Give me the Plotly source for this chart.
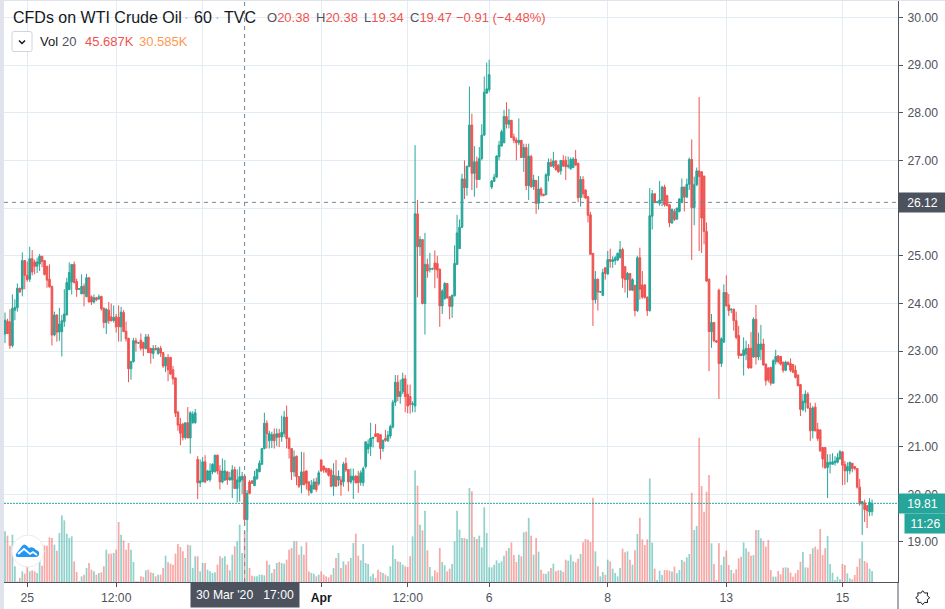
import numpy as np
import plotly.graph_objects as go

# hourly bars, weekend gaps closed
opens = [
    23.36, 23.63, 23.61, 23.12, 23.86, 23.91, 24.32, 24.30, 24.90, 24.59,
    24.51, 24.94, 24.87, 24.78, 24.83, 24.99, 24.90, 24.78, 24.51, 24.36,
    23.34, 23.76, 23.40, 23.41, 23.62, 23.76, 24.29, 24.45, 24.82, 24.46,
    24.30, 24.20, 24.36, 24.14, 24.54, 24.14, 24.03, 24.12, 24.10, 24.15,
    23.90, 23.60, 23.86, 23.72, 23.64, 23.72, 23.71, 23.51, 23.81, 23.42,
    23.27, 22.63, 22.78, 23.22, 23.17, 23.23, 23.18, 23.05, 23.30, 23.06,
    22.95, 23.06, 22.95, 23.06, 22.97, 22.69, 22.87, 22.87, 22.61, 22.44,
    21.72, 21.47, 21.47, 21.19, 21.50, 21.18, 21.50, 21.50, 20.73, 20.24,
    20.26, 20.68, 20.30, 20.31, 20.47, 20.47, 20.82, 20.49, 20.26, 20.30,
    20.47, 20.30, 20.30, 20.52, 20.12, 20.26, 20.30, 20.38, 19.47, 20.26,
    20.28, 20.18, 20.33, 20.47, 20.63, 20.96, 21.49, 21.12, 21.13, 21.26,
    21.19, 21.27, 21.20, 21.27, 21.62, 21.17, 20.96, 20.47, 20.80, 20.37,
    20.20, 20.47, 20.49, 20.26, 20.03, 20.11, 20.26, 20.22, 20.72, 20.59,
    20.54, 20.54, 20.50, 20.17, 20.38, 20.30, 20.30, 20.26, 20.65, 20.52,
    20.26, 20.30, 20.38, 20.38, 20.25, 20.24, 20.58, 20.95, 21.00, 21.17,
    21.27, 21.27, 21.25, 20.96, 21.17, 21.12, 21.22, 21.41, 21.93, 22.35,
    22.05, 22.15, 22.42, 22.10, 22.05, 21.88, 21.85, 25.88, 25.19, 25.34,
    24.00, 24.82, 24.72, 24.72, 24.85, 24.84, 24.72, 23.95, 24.10, 24.42,
    24.14, 23.94, 24.16, 24.82, 25.15, 25.60, 26.61, 26.43, 26.87, 27.74,
    26.73, 26.97, 26.60, 27.04, 27.53, 28.41, 28.48, 26.44, 26.56, 26.65,
    27.08, 27.30, 27.37, 27.92, 27.76, 27.84, 27.49, 27.43, 27.37, 27.42,
    27.06, 27.27, 26.47, 27.08, 26.45, 26.58, 26.10, 26.40, 26.29, 26.28,
    26.68, 26.96, 26.88, 26.99, 26.90, 26.78, 27.00, 27.00, 26.87, 26.83,
    26.85, 27.03, 26.94, 26.22, 26.60, 26.38, 26.24, 25.86, 25.05, 24.08,
    24.51, 24.24, 24.17, 24.75, 24.62, 24.92, 24.88, 24.90, 24.91, 24.96,
    25.13, 24.77, 24.50, 24.63, 24.28, 24.38, 23.85, 24.96, 24.39, 24.39,
    24.13, 23.85, 25.83, 26.30, 26.12, 26.10, 26.16, 26.44, 26.26, 26.07,
    25.69, 25.93, 25.77, 25.93, 26.12, 26.44, 26.23, 26.50, 27.02, 26.01,
    26.49, 26.78, 26.76, 26.67, 25.51, 24.51, 23.41, 23.60, 23.22, 24.28,
    22.74, 23.19, 24.23, 23.97, 23.87, 23.88, 23.64, 23.33, 22.94, 22.91,
    22.94, 23.06, 23.06, 22.88, 23.67, 22.88, 23.04, 23.15, 22.73, 22.65,
    22.66, 22.33, 22.78, 22.90, 22.89, 22.77, 22.60, 22.77, 22.74, 22.72,
    22.60, 22.50, 22.30, 21.78, 21.92, 22.10, 21.81, 21.33, 21.83, 21.36,
    21.35, 20.98, 20.98, 20.56, 20.63, 20.63, 20.66, 20.67, 20.74, 20.89,
    20.63, 20.49, 20.49, 20.65, 20.58, 20.54, 20.15, 19.80, 19.82, 19.76,
    19.63, 19.64,
]
highs = [
    23.81, 23.68, 23.88, 24.19, 24.09, 24.42, 24.33, 25.07, 24.91, 24.88,
    25.19, 25.12, 24.92, 24.96, 25.04, 25.00, 24.91, 24.79, 24.82, 24.37,
    23.83, 23.77, 23.91, 23.76, 24.30, 24.54, 24.86, 24.82, 24.88, 24.52,
    24.31, 24.61, 24.42, 24.62, 24.55, 24.17, 24.19, 24.14, 24.19, 24.16,
    23.92, 23.90, 24.03, 24.00, 23.96, 23.78, 23.96, 23.93, 23.86, 23.62,
    23.28, 22.80, 23.28, 23.28, 23.19, 23.37, 23.20, 23.36, 23.36, 23.07,
    23.13, 23.13, 23.09, 23.11, 22.98, 22.87, 22.94, 22.88, 22.69, 22.45,
    21.75, 21.60, 21.50, 21.50, 21.83, 21.74, 21.74, 21.79, 20.80, 20.73,
    20.78, 20.82, 20.51, 20.65, 20.65, 20.82, 20.83, 20.61, 20.75, 20.72,
    20.48, 20.47, 20.61, 20.58, 20.52, 20.58, 20.47, 20.38, 20.09, 20.30,
    20.30, 20.49, 20.54, 20.71, 20.96, 21.71, 21.55, 21.33, 21.31, 21.38,
    21.38, 21.37, 21.65, 21.75, 21.86, 21.20, 20.97, 20.92, 20.81, 20.38,
    20.89, 20.88, 20.50, 20.27, 20.30, 20.33, 20.35, 20.50, 20.73, 20.60,
    20.56, 20.55, 20.54, 20.65, 20.72, 20.50, 20.38, 20.68, 20.77, 20.53,
    20.54, 20.54, 20.40, 20.49, 20.50, 20.58, 21.10, 21.15, 21.50, 21.21,
    21.47, 21.28, 21.26, 21.15, 21.35, 21.33, 21.46, 21.98, 22.50, 22.50,
    22.40, 22.55, 22.50, 22.30, 22.30, 21.95, 27.32, 26.17, 25.41, 25.35,
    25.48, 24.94, 25.06, 24.75, 25.11, 25.00, 24.73, 24.30, 24.45, 24.43,
    24.15, 24.19, 25.22, 25.86, 25.76, 26.72, 27.00, 26.88, 28.55, 27.98,
    27.30, 27.08, 27.28, 27.76, 28.76, 29.05, 29.11, 26.59, 26.72, 27.11,
    27.41, 27.64, 28.06, 28.22, 28.08, 27.85, 27.56, 27.48, 27.88, 27.43,
    27.35, 27.35, 27.35, 27.12, 26.70, 26.59, 26.67, 26.44, 26.30, 26.73,
    27.04, 27.04, 27.18, 27.00, 26.92, 27.00, 27.11, 27.09, 27.08, 27.06,
    27.07, 27.22, 26.95, 26.67, 26.67, 26.39, 26.25, 25.92, 25.06, 24.68,
    24.52, 24.26, 24.73, 24.76, 25.10, 25.15, 24.99, 25.00, 25.07, 25.31,
    25.17, 24.79, 24.66, 24.64, 24.53, 24.39, 25.00, 25.17, 24.68, 24.40,
    24.15, 26.42, 26.38, 26.31, 26.14, 26.57, 26.47, 26.49, 26.28, 26.08,
    25.99, 25.98, 26.01, 26.21, 26.62, 26.45, 26.62, 27.06, 27.44, 26.66,
    26.85, 28.33, 26.77, 26.68, 25.70, 24.52, 23.78, 23.61, 23.23, 24.31,
    23.29, 24.40, 24.59, 24.20, 23.90, 23.89, 23.83, 23.53, 22.95, 23.29,
    23.22, 23.15, 23.40, 23.71, 23.97, 23.39, 23.55, 23.26, 22.74, 22.66,
    22.67, 22.83, 23.03, 22.92, 22.90, 22.78, 22.80, 22.78, 22.85, 22.73,
    22.70, 22.51, 22.31, 22.10, 22.18, 22.14, 21.92, 21.85, 21.92, 21.50,
    21.36, 20.99, 20.99, 20.84, 20.84, 20.86, 20.80, 20.86, 20.93, 20.90,
    20.70, 20.67, 20.68, 20.66, 20.59, 20.55, 20.32, 19.86, 19.89, 19.77,
    19.92, 19.89,
]
lows = [
    23.17, 23.36, 23.05, 23.08, 23.65, 23.83, 24.23, 24.15, 24.30, 24.46,
    24.45, 24.59, 24.61, 24.64, 24.68, 24.76, 24.59, 24.33, 24.33, 23.12,
    23.31, 23.20, 23.22, 22.89, 23.51, 23.75, 24.28, 24.19, 24.42, 24.14,
    24.28, 24.20, 23.94, 24.14, 24.03, 23.97, 24.00, 24.05, 24.07, 23.85,
    23.48, 23.36, 23.57, 23.62, 23.60, 23.39, 23.20, 23.20, 23.41, 23.20,
    22.35, 22.40, 22.76, 22.99, 23.15, 23.01, 22.90, 23.05, 22.97, 22.74,
    22.84, 23.02, 22.93, 22.88, 22.65, 22.56, 22.37, 22.50, 22.30, 21.62,
    21.33, 21.03, 21.13, 21.15, 21.18, 20.85, 21.48, 21.48, 19.90, 20.15,
    20.26, 20.23, 20.28, 20.26, 20.42, 20.46, 20.42, 20.10, 20.23, 20.28,
    20.20, 20.29, 19.92, 20.12, 19.83, 19.85, 20.00, 19.34, 19.22, 20.00,
    20.22, 20.18, 20.30, 20.47, 20.61, 20.94, 20.96, 20.96, 20.97, 20.96,
    21.01, 20.99, 21.10, 21.20, 20.96, 20.75, 20.30, 20.37, 20.19, 20.13,
    20.02, 20.25, 20.10, 19.97, 20.02, 20.10, 20.05, 20.18, 20.47, 20.45,
    20.44, 20.37, 20.15, 19.97, 20.16, 20.17, 19.97, 20.16, 20.47, 20.06,
    20.22, 19.90, 20.23, 20.03, 20.18, 20.17, 20.54, 20.85, 20.80, 20.98,
    21.20, 21.09, 20.73, 20.89, 21.10, 21.10, 21.17, 21.38, 21.85, 21.95,
    21.90, 22.10, 21.72, 21.70, 21.69, 21.72, 21.72, 24.13, 25.00, 23.98,
    23.35, 24.54, 24.65, 24.70, 24.32, 24.53, 23.51, 23.78, 24.08, 24.10,
    23.67, 23.70, 24.15, 24.81, 25.14, 25.58, 26.19, 26.26, 26.86, 26.38,
    26.24, 26.42, 26.59, 27.00, 27.52, 28.40, 28.43, 26.40, 26.55, 26.63,
    27.00, 27.29, 27.36, 27.67, 27.67, 27.47, 27.36, 27.00, 27.32, 27.05,
    26.76, 26.38, 26.17, 26.42, 26.38, 25.88, 25.97, 26.24, 26.25, 26.27,
    26.56, 26.87, 26.84, 26.78, 26.74, 26.70, 26.87, 26.59, 26.83, 26.80,
    26.84, 26.89, 26.12, 26.03, 26.22, 26.19, 25.70, 25.02, 23.53, 24.00,
    23.85, 24.22, 24.16, 24.50, 24.60, 24.75, 24.75, 24.81, 24.89, 24.95,
    24.33, 24.23, 24.12, 24.28, 24.26, 23.73, 23.82, 24.08, 24.10, 24.10,
    23.74, 23.83, 25.55, 26.10, 26.10, 26.05, 26.04, 26.03, 26.04, 25.60,
    25.67, 25.73, 25.75, 25.91, 26.10, 25.93, 26.22, 26.38, 24.91, 25.64,
    26.46, 25.10, 25.06, 25.24, 24.45, 22.58, 23.07, 23.19, 23.18, 22.00,
    22.67, 23.18, 23.94, 23.74, 23.80, 23.43, 23.25, 22.84, 22.90, 22.49,
    22.81, 22.63, 22.64, 22.86, 22.72, 22.81, 22.81, 22.70, 22.28, 22.35,
    22.28, 22.32, 22.72, 22.74, 22.70, 22.55, 22.58, 22.70, 22.56, 22.54,
    22.43, 22.26, 21.64, 21.74, 21.72, 21.79, 21.12, 21.17, 21.32, 21.12,
    20.89, 20.56, 20.53, 19.92, 20.44, 20.62, 20.60, 20.65, 20.73, 20.19,
    20.20, 20.25, 20.42, 20.46, 20.50, 20.12, 19.76, 19.15, 19.42, 19.29,
    19.54, 19.55,
]
closes = [
    23.65, 23.37, 23.12, 23.90, 23.92, 24.32, 24.24, 24.90, 24.59, 24.50,
    24.94, 24.66, 24.78, 24.87, 24.99, 24.88, 24.61, 24.49, 24.35, 23.34,
    23.76, 23.40, 23.57, 23.64, 23.78, 24.44, 24.65, 24.82, 24.44, 24.29,
    24.31, 24.36, 24.21, 24.54, 24.03, 24.03, 24.12, 24.08, 24.14, 23.89,
    23.60, 23.88, 23.64, 23.64, 23.71, 23.51, 23.51, 23.82, 23.41, 23.26,
    22.63, 22.78, 23.22, 23.17, 23.18, 23.06, 23.06, 23.30, 22.97, 22.96,
    23.06, 23.03, 23.06, 22.96, 22.69, 22.87, 22.61, 22.52, 22.42, 21.70,
    21.45, 21.28, 21.19, 21.50, 21.18, 21.71, 21.68, 21.71, 20.24, 20.28,
    20.68, 20.26, 20.49, 20.49, 20.63, 20.82, 20.49, 20.26, 20.49, 20.49,
    20.30, 20.35, 20.51, 20.12, 20.30, 20.37, 20.38, 19.47, 20.02, 20.02,
    20.23, 20.37, 20.52, 20.65, 20.96, 21.49, 21.27, 21.27, 21.25, 21.12,
    21.27, 21.20, 21.30, 21.62, 21.17, 20.96, 20.47, 20.78, 20.37, 20.17,
    20.47, 20.20, 20.23, 20.08, 20.19, 20.26, 20.10, 20.45, 20.49, 20.51,
    20.47, 20.40, 20.17, 20.40, 20.17, 20.38, 20.20, 20.63, 20.51, 20.26,
    20.38, 20.38, 20.24, 20.24, 20.45, 20.54, 21.10, 21.05, 21.18, 21.19,
    21.21, 21.10, 20.96, 21.13, 21.13, 21.24, 21.42, 21.93, 22.35, 22.05,
    22.15, 22.42, 22.05, 21.85, 21.88, 21.90, 25.88, 25.19, 25.34, 24.00,
    24.82, 24.68, 24.73, 24.73, 24.72, 24.70, 23.95, 24.26, 24.42, 24.12,
    23.94, 24.17, 24.84, 25.48, 25.60, 26.61, 26.43, 26.88, 27.74, 26.73,
    26.97, 26.60, 27.04, 27.53, 28.43, 28.50, 28.80, 26.57, 26.65, 27.09,
    27.32, 27.60, 27.92, 27.76, 27.84, 27.48, 27.42, 27.37, 27.42, 27.06,
    27.27, 26.47, 27.09, 26.45, 26.59, 26.10, 26.40, 26.28, 26.26, 26.70,
    26.96, 26.88, 26.99, 26.81, 26.76, 27.00, 26.88, 26.87, 26.90, 27.02,
    27.03, 26.90, 26.22, 26.60, 26.30, 26.21, 25.85, 25.03, 24.08, 24.51,
    24.24, 24.25, 24.65, 24.63, 24.92, 24.88, 24.92, 24.96, 25.05, 25.13,
    24.53, 24.50, 24.63, 24.28, 24.50, 23.85, 24.96, 24.30, 24.13, 24.13,
    23.85, 25.84, 26.30, 26.12, 26.13, 26.17, 26.44, 26.07, 26.05, 25.69,
    25.97, 25.76, 26.00, 26.19, 26.44, 26.23, 26.50, 27.02, 26.01, 26.49,
    26.78, 26.66, 25.79, 25.51, 24.47, 23.41, 23.60, 23.22, 23.19, 22.74,
    23.26, 24.23, 23.95, 23.85, 23.88, 23.64, 23.29, 22.91, 22.91, 23.03,
    23.06, 22.65, 22.65, 23.67, 22.88, 23.15, 23.15, 22.71, 22.38, 22.40,
    22.33, 22.80, 22.89, 22.78, 22.73, 22.60, 22.77, 22.72, 22.60, 22.56,
    22.45, 22.28, 21.78, 21.95, 22.10, 21.81, 21.33, 21.81, 21.33, 21.17,
    20.91, 20.74, 20.56, 20.67, 20.67, 20.68, 20.70, 20.77, 20.89, 20.61,
    20.49, 20.58, 20.67, 20.54, 20.54, 20.15, 19.80, 19.85, 19.68, 19.66,
    19.83, 19.81,
]
# volume in thousands
volumes = [
    45.6, 41.7, 32.7, 42.6, 14.1, 0.6, 3.6, 9.6, 7.5, 14.1,
    9.6, 10.5, 9.6, 8.1, 18.6, 14.7, 33.0, 32.7, 40.2, 39.6,
    33.6, 28.2, 44.1, 60.0, 55.5, 43.5, 39.6, 41.1, 18.6, 9.0,
    0.6, 5.1, 6.6, 12.6, 17.1, 11.1, 9.6, 6.6, 8.1, 8.7,
    14.1, 29.1, 25.5, 25.5, 26.1, 29.1, 54.0, 42.6, 37.5, 29.1,
    35.1, 29.1, 18.0, 0.6, 0.6, 5.1, 4.5, 10.5, 11.1, 8.7,
    8.1, 5.1, 6.6, 6.6, 12.6, 23.7, 17.7, 16.5, 15.6, 25.5,
    34.2, 31.5, 27.6, 21.6, 33.6, 33.0, 12.6, 23.1, 23.1, 9.6,
    17.1, 17.1, 11.1, 9.6, 8.1, 8.7, 15.6, 23.1, 21.6, 23.1,
    15.6, 10.5, 24.6, 32.1, 36.6, 51.6, 26.1, 45.687, 45.6, 12.6,
    5.7, 5.1, 5.1, 6.6, 6.6, 6.0, 19.2, 15.6, 8.1, 11.7,
    17.1, 18.0, 17.1, 16.5, 20.1, 29.1, 30.6, 36.6, 36.6, 24.6,
    32.1, 24.6, 35.7, 9.6, 8.1, 7.5, 5.1, 6.6,
    9.6, 6.6, 5.1, 4.2, 6.6, 12.6, 21.6, 26.1, 12.6, 18.6,
    15.6, 18.6, 21.6, 35.1, 43.5, 23.7, 19.5, 34.2, 17.1, 16.2,
    5.1, 7.5, 3.6, 11.1, 9.0, 8.1, 6.6, 5.1, 14.1, 33.0,
    20.7, 18.6, 18.0, 15.6, 14.1, 13.5, 23.1, 41.1, 100.5, 86.7, 51.6,
    46.5, 64.2, 28.5, 13.5, 5.1, 10.5, 8.7, 30.6, 18.0, 15.0,
    9.6, 12.0, 16.2, 36.6, 64.2, 47.1, 39.6, 39.6, 38.7, 84.6,
    81.6, 40.5, 38.7, 41.7, 31.2, 67.2, 44.1, 13.2, 13.2, 15.6,
    19.5, 17.1, 18.6, 23.7, 28.2, 30.6, 35.7, 24.3, 18.0, 24.6,
    23.1, 44.7, 45.3, 57.6, 41.7, 24.6, 39.6, 27.3, 11.1, 7.5,
    7.5, 9.6, 12.6, 16.5, 9.6, 10.5, 10.5, 9.0, 20.1, 19.2,
    24.6, 18.6, 17.7, 21.0, 25.2, 35.7, 38.7, 38.1, 36.0, 75.9,
    27.6, 14.1, 5.1, 9.0, 6.6, 20.1, 18.6, 12.0, 8.1, 5.1,
    12.6, 30.0, 26.7, 27.6, 20.1, 15.6, 28.5,
    43.2, 57.9, 38.4, 33.3, 38.4, 93.3,
    35.4, 12.0, 1.8, 10.2, 6.3, 10.8, 10.8, 10.2, 9.3, 13.8,
    7.8, 10.8, 19.8, 18.3, 22.2, 25.2, 80.4, 46.8, 50.4, 129.9,
    86.4, 63.3, 81.3, 96.3, 34.8, 16.2, 1.8, 34.8, 15.3, 22.8,
    28.2, 15.3, 10.8, 7.8, 11.4, 21.3, 22.8, 35.7, 30.3, 27.3,
    23.7, 24.3, 46.8, 46.8, 39.3, 37.2, 31.8, 37.8, 10.8, 4.8,
    4.8, 9.9, 6.9, 12.9, 13.2, 12.9, 8.4, 4.8, 7.8, 10.8,
    18.3, 27.0, 13.2, 12.9, 25.2, 30.3, 31.8, 29.4, 47.7, 24.3,
    30.3, 41.4, 16.2, 8.4, 1.8, 4.8, 2.4, 16.2, 15.3, 7.8,
    3.3, 2.4, 6.3, 13.8, 21.3, 36.3, 18.9, 17.4, 12.0, 9.9,
]
tick_bars = [9, 45, 80, 128, 163, 196, 244, 292, 339]
tick_text = ["25", "12:00", "", '<b><span style="color:#131722">Apr</span></b>', "12:00", "6", "8", "13", "15"]
price_ticks = [19, 20, 21, 22, 23, 24, 25, 26, 27, 28, 29, 30]
crosshair_bar = 97
crosshair_price = 26.12
last_price = 19.81

UP = "#26a69a"
DOWN = "#ef5350"
DARK = "#4c525e"
TEXT = "#50535e"
GRID = "#e3ecf3"
FONT = "Liberation Sans"
AXIS_SIZE = 12.2

W, H = 945, 609
L, R, T, B = 4, 47, 0, 27
PW, PH = W - L - R, H - T - B

lengths = {len(v) for v in (opens, highs, lows, closes, volumes)}
if len(lengths) != 1:
    raise ValueError([len(v) for v in (opens, highs, lows, closes, volumes)])


def px(x):
    return (x - L) / PW


def py(y):
    return (PH - y) / PH


def label(x, y, text, color=TEXT, size=13):
    # annotations sit 2px inside their anchor
    return dict(
        xref="paper", yref="paper", x=px(x - 2), y=py(y), text=text, showarrow=False,
        xanchor="left", yanchor="middle", font=dict(family=FONT, size=size, color=color),
    )


def icon(cx, cy, path, **kw):
    return dict(
        type="path", xref="paper", yref="paper", xsizemode="pixel", ysizemode="pixel",
        xanchor=px(cx), yanchor=py(cy), path=path, **kw,
    )


def red(s):
    return f'<span style="color:{DOWN}">{s}</span>'


x = list(range(len(closes)))
vol_colors = [
    "rgba(38,166,154,0.5)" if c >= o else "rgba(239,83,80,0.5)"
    for o, c in zip(opens, closes)
]

fig = go.Figure()
fig.add_trace(go.Bar(x=x, y=volumes, width=0.7, marker=dict(color=vol_colors, line_width=0), yaxis="y"))
fig.add_trace(
    go.Candlestick(
        x=x, open=opens, high=highs, low=lows, close=closes, yaxis="y2",
        increasing=dict(line=dict(color=UP, width=1), fillcolor=UP),
        decreasing=dict(line=dict(color=DOWN, width=1), fillcolor=DOWN),
        whiskerwidth=0,
    )
)

# gear outline for the corner button
angles = np.linspace(0, 2 * np.pi, 16, endpoint=False)
radii = [7 if i % 2 == 0 else 5 for i in range(16)]
gear = "M" + " L".join(f"{r * np.cos(a):.1f},{r * np.sin(a):.1f}" for r, a in zip(radii, angles)) + " Z"

shapes = [
    # window edge
    dict(type="rect", xref="paper", yref="paper", x0=px(0), x1=px(L), y0=py(H), y1=py(0),
         fillcolor="#e0e3eb", line_width=0),
    dict(type="rect", xref="paper", yref="paper", x0=px(0), x1=px(W), y0=py(1), y1=py(0),
         fillcolor="#e0e3eb", line_width=0),
    # axis divider runs down to the bottom
    dict(type="line", xref="paper", yref="paper", x0=1, x1=1, y0=py(H), y1=0,
         line=dict(color=TEXT, width=1)),
    # price line and crosshair
    dict(type="line", xref="paper", yref="y2", x0=0, x1=1, y0=last_price, y1=last_price,
         line=dict(color=UP, width=1, dash="2px,1px")),
    dict(type="line", xref="x", yref="paper", x0=crosshair_bar, x1=crosshair_bar, y0=0, y1=1,
         line=dict(color="#758696", width=1, dash="4px,4px")),
    dict(type="line", xref="paper", yref="y2", x0=0, x1=1, y0=crosshair_price, y1=crosshair_price,
         line=dict(color="#758696", width=1, dash="4px,4px")),
    # logo badge
    dict(type="circle", xref="paper", yref="paper", xsizemode="pixel", ysizemode="pixel",
         xanchor=px(28), yanchor=py(551), x0=-16, x1=16, y0=-16, y1=16,
         fillcolor="white", line=dict(color="#e9ebef", width=1)),
    icon(28, 551, "M-12,-3 L-6,5 Q-4,8 -1,5 L1,3 Q5,5 8,1 Q12,0 11,-4 Q10,-6 8,-6 L-10,-6 Q-13,-6 -12,-3 Z",
         fillcolor="#2196f3", line_width=0),
    icon(28, 551, "M-10,-3 L-4,2 L2,-3 L5,-1 L9,-4", fillcolor="rgba(0,0,0,0)",
         line=dict(color="white", width=1.8)),
    # collapse button
    icon(22, 41.5, "M-8,10 L8,10 Q10,10 10,8 L10,-8 Q10,-10 8,-10 L-8,-10 Q-10,-10 -10,-8 L-10,8 Q-10,10 -8,10 Z",
         fillcolor="white", line=dict(color="#d1d4dc", width=1)),
    icon(22, 41.5, "M-3,1 L0,-2 L3,1", fillcolor="rgba(0,0,0,0)", line=dict(color="#131722", width=1.5)),
    # settings gear
    icon(922.7, 597.7, gear, fillcolor="white", line=dict(color="#131722", width=1)),
]

annotations = [
    label(13, 17, "CFDs on WTI Crude Oil", "#131722", 16),
    label(184, 17, "·", "#b2b5be", 14),
    label(194, 17, "60", "#131722", 16),
    label(215, 17, "·", "#b2b5be", 14),
    label(224, 17, "TVC", "#131722", 16),
    label(266.5, 17, f"O{red('20.38')}", TEXT),
    label(315.5, 17, f"H{red('20.38')}", TEXT),
    label(364, 17, f"L{red('19.34')}", TEXT),
    label(409.5, 17, f"C{red('19.47')}", TEXT),
    label(456.5, 17, red("−0.91 (−4.48%)")),
    label(40, 41.5, "Vol", "#131722"),
    label(62, 41.5, "20", TEXT),
    label(85, 41.5, "45.687K", DOWN),
    label(139, 41.5, "30.585K", "#ff9850"),
    dict(xref="paper", yref="y2", x=1, y=crosshair_price, text="26.12", showarrow=False, xanchor="left",
         yanchor="middle", width=47, height=19, bgcolor=DARK, borderpad=0,
         font=dict(family=FONT, size=AXIS_SIZE, color="white")),
    dict(xref="paper", yref="y2", x=1, y=last_price, text="19.81", showarrow=False, xanchor="left",
         yanchor="middle", width=47, height=19, bgcolor=UP, borderpad=0,
         font=dict(family=FONT, size=AXIS_SIZE, color="white")),
    dict(xref="paper", yref="paper", x=px(904), y=py(523.5), text="11:26", showarrow=False, xanchor="left",
         yanchor="middle", width=41, height=19, bgcolor=UP, borderpad=0,
         font=dict(family=FONT, size=AXIS_SIZE, color="white")),
    dict(xref="x", yref="paper", x=crosshair_bar, y=0, text="30 Mar '20&nbsp;&nbsp;&nbsp;17:00", showarrow=False,
         xanchor="center", yanchor="top", width=108, height=24, bgcolor=DARK, borderpad=0,
         font=dict(family=FONT, size=AXIS_SIZE, color="white")),
]

fig.update_layout(
    width=W,
    height=H,
    margin=dict(l=L, r=R, t=T, b=B, pad=0),
    paper_bgcolor="white",
    plot_bgcolor="white",
    showlegend=False,
    boxgap=0.05,
    font=dict(family=FONT, size=AXIS_SIZE, color=TEXT),
    xaxis=dict(
        type="linear", range=[-0.41, 361.5], rangeslider_visible=False,
        tickmode="array", tickvals=tick_bars, ticktext=tick_text,
        showgrid=True, gridcolor=GRID, gridwidth=1, zeroline=False,
        showline=True, linecolor=TEXT, linewidth=1,
        ticks="outside", ticklen=4, tickcolor=TEXT,
        tickfont=dict(family=FONT, size=AXIS_SIZE, color=TEXT),
    ),
    yaxis=dict(range=[0, 523.8], visible=False, fixedrange=True),
    yaxis2=dict(
        overlaying="y", side="right", anchor="x", range=[18.161, 30.363],
        tickmode="array", tickvals=price_ticks, ticktext=[f"{p:.2f}" for p in price_ticks],
        showgrid=True, gridcolor=GRID, gridwidth=1, zeroline=False,
        showline=True, linecolor=TEXT, linewidth=1,
        ticks="outside", ticklen=4, tickcolor=TEXT, ticklabelstandoff=2,
        tickfont=dict(family=FONT, size=AXIS_SIZE, color=TEXT),
    ),
    shapes=shapes,
    annotations=annotations,
)

fig.write_html("out.html", post_script="document.body.style.margin='0';", config=dict(displayModeBar=False))
